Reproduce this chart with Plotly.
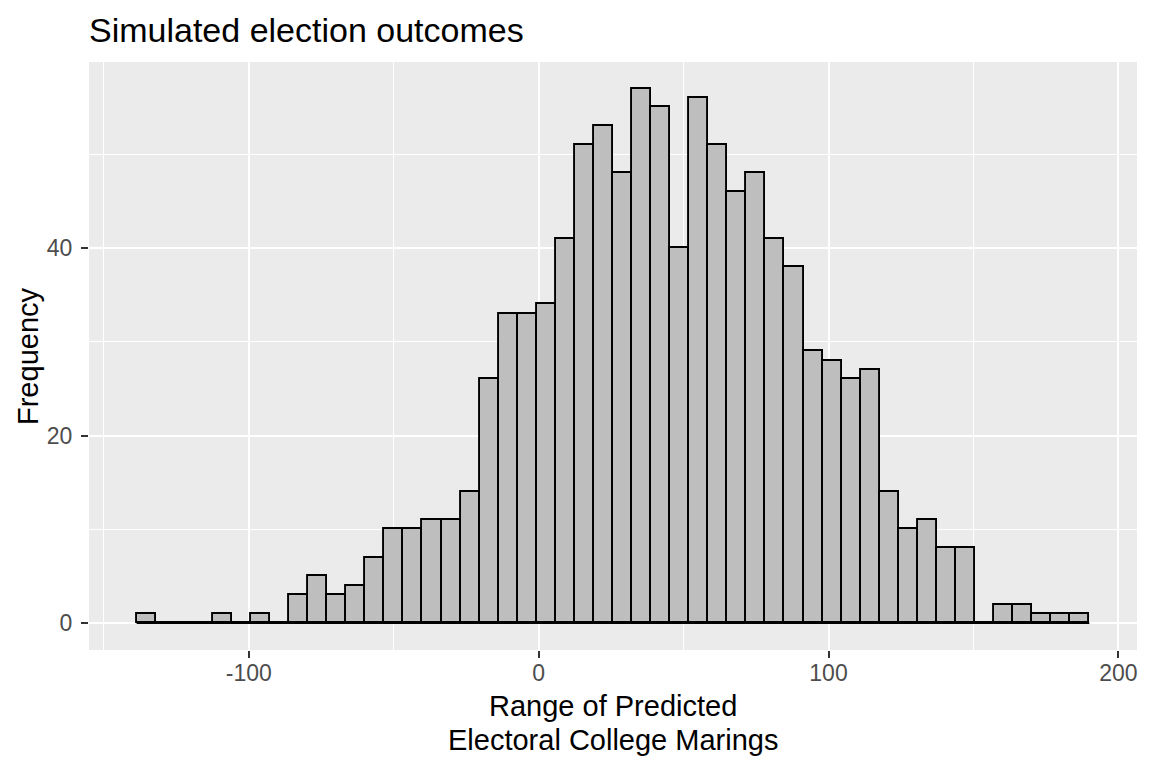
import plotly.graph_objects as go

# ---- data ----
counts = [1, 0, 0, 0, 1, 0, 1, 0, 3, 5, 3, 4, 7, 10, 10, 11, 11, 14, 26, 33,
          33, 34, 41, 51, 53, 48, 57, 55, 40, 56, 51, 46, 48, 41, 38, 29, 28, 26, 27, 14,
          10, 11, 8, 8, 0, 2, 2, 1, 1, 1]
bin_start = -138.7
bin_width = 6.574
x_tick_vals = [-100, 0, 100, 200]
x_tick_text = ["-100", "0", "100", "200"]
y_tick_vals = [0, 20, 40]
y_tick_text = ["0", "20", "40"]
title_text = "Simulated election outcomes"
x_title_lines = ["Range of Predicted", "Electoral College Marings"]
y_title = "Frequency"

centers = [bin_start + bin_width * (i + 0.5) for i in range(len(counts))]
bin_end = bin_start + bin_width * len(counts)
span = bin_end - bin_start
x_range = [bin_start - 0.05 * span, bin_end + 0.05 * span]
ymax = max(counts)
y_range = [-0.05 * ymax, ymax * 1.05]

FONT = "Liberation Sans, Arial, sans-serif"
PANEL_H = 588
PANEL_W = 1048

fig = go.Figure()
fig.add_trace(go.Scatter(
    x=[bin_start, bin_end], y=[0, 0], mode="lines",
    line=dict(color="black", width=1.6), hoverinfo="skip", showlegend=False))
fig.add_trace(go.Bar(
    x=centers, y=counts, width=bin_width,
    marker=dict(color="#BEBEBE", line=dict(color="black", width=1.9)),
    showlegend=False))

annotations = [
    dict(text=x_title_lines[0], xref="paper", yref="paper", x=0.5, y=-56 / PANEL_H,
         xanchor="center", yanchor="middle", showarrow=False,
         font=dict(size=29, color="black", family=FONT)),
    dict(text=x_title_lines[1], xref="paper", yref="paper", x=0.5, y=-90 / PANEL_H,
         xanchor="center", yanchor="middle", showarrow=False,
         font=dict(size=29, color="black", family=FONT)),
    dict(text=y_title, xref="paper", yref="paper", x=-61 / PANEL_W, y=0.5,
         xanchor="center", yanchor="middle", textangle=-90, showarrow=False,
         font=dict(size=29, color="black", family=FONT)),
]

fig.update_layout(
    width=1152, height=768,
    margin=dict(l=89, r=15, t=62, b=118),
    paper_bgcolor="white", plot_bgcolor="#EBEBEB",
    font=dict(family=FONT, color="black"),
    bargap=0,
    title=dict(text=title_text, font=dict(size=34, color="black", family=FONT),
               xref="paper", x=0, xanchor="left",
               yref="container", y=1 - 30 / 768, yanchor="middle"),
    xaxis=dict(range=x_range, tickvals=x_tick_vals, ticktext=x_tick_text,
               showgrid=True, gridcolor="white", gridwidth=2.2,
               minor=dict(dtick=50, tick0=-150, showgrid=True, gridcolor="white", gridwidth=1.1),
               zeroline=False, ticks="outside", ticklen=7, tickwidth=1.6, tickcolor="#333333",
               tickfont=dict(size=23, color="#4D4D4D", family=FONT), showline=False,
               ticklabelstandoff=-5, automargin=False),
    yaxis=dict(range=y_range, tickvals=y_tick_vals, ticktext=y_tick_text,
               showgrid=True, gridcolor="white", gridwidth=2.2,
               minor=dict(dtick=10, tick0=10, showgrid=True, gridcolor="white", gridwidth=1.1),
               zeroline=False, ticks="outside", ticklen=7, tickwidth=1.6, tickcolor="#333333",
               tickfont=dict(size=23, color="#4D4D4D", family=FONT), showline=False,
               ticklabelstandoff=4, automargin=False),
    annotations=annotations,
)

fig.write_html("out.html", config={"displayModeBar": False},
               post_script="document.body.style.margin='0';document.body.style.padding='0';")
